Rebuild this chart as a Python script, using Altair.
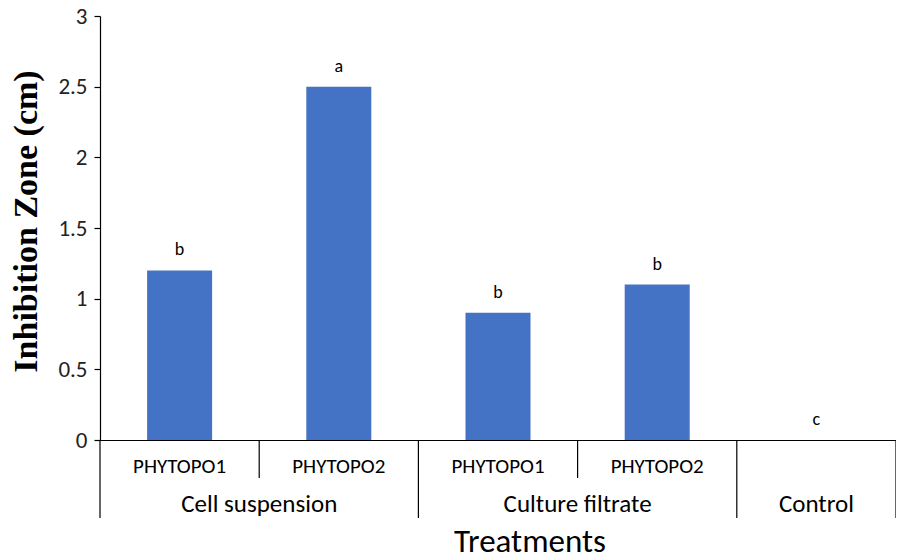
import altair as alt
import pandas as pd

sub_labels = ["PHYTOPO1", "PHYTOPO2", "PHYTOPO1", "PHYTOPO2", ""]
values = [1.2, 2.5, 0.9, 1.1, 0.0]
letters = ["b", "a", "b", "b", "c"]
groups = ["Cell suspension", "Culture filtrate", "Control"]
group_centers = [1.0, 3.0, 4.5]
long_seps = [0, 2, 4, 5]
short_seps = [1, 3]
y_ticks = [0, 0.5, 1, 1.5, 2, 2.5, 3]

FONT = "Carlito, Lato, sans-serif"
W, H = 796, 424
TOP = 8

bars_df = pd.DataFrame({
    "pos": [i + 0.5 for i in range(len(values))],
    "value": values,
    "letter": letters,
    "sub": sub_labels,
})
groups_df = pd.DataFrame({"pos": group_centers, "group": groups})
seps_df = pd.DataFrame({
    "pos": long_seps + short_seps,
    "kind": ["long"] * len(long_seps) + ["short"] * len(short_seps),
})

xscale = alt.Scale(domain=[0, 5], nice=False, zero=False, padding=0)
yscale = alt.Scale(domain=[0, 3], nice=False)

x_enc = alt.X("pos:Q", scale=xscale,
              axis=alt.Axis(labels=False, ticks=False, grid=False, title=None,
                            domainColor="black", domainWidth=1.2))

base = alt.Chart(bars_df)

bars = base.mark_bar(size=65, color="#4472C4").encode(
    x=x_enc,
    y=alt.Y("value:Q", scale=yscale,
            axis=alt.Axis(values=y_ticks, format="~g", grid=False,
                          domainColor="black", domainWidth=1.2,
                          tickColor="black", tickSize=6, tickWidth=1.2,
                          labelFont=FONT, labelFontSize=23, labelColor="#222",
                          labelPadding=7,
                          title="Inhibition Zone (cm)",
                          titleFont="Liberation Serif", titleFontWeight="bold",
                          titleFontSize=34, titleColor="black",
                          titleX=-74, titleY=H / 2 - 7, titleBaseline="middle",
                          titleAngle=-90)),
)

letter_text = base.mark_text(font=FONT, fontSize=18, color="black", dy=-20,
                             baseline="middle").encode(
    x=alt.X("pos:Q", scale=xscale),
    y=alt.Y("value:Q", scale=yscale),
    text="letter:N",
)

sub_text = base.mark_text(font=FONT, fontSize=21, color="black",
                          baseline="alphabetic").encode(
    x=alt.X("pos:Q", scale=xscale),
    y=alt.value(473 - 8 - TOP),
    text="sub:N",
)

group_text = alt.Chart(groups_df).mark_text(font=FONT, fontSize=25, color="black",
                                            baseline="alphabetic").encode(
    x=alt.X("pos:Q", scale=xscale),
    y=alt.value(512 - 8 - TOP),
    text="group:N",
)

long_rules = alt.Chart(seps_df).transform_filter(alt.datum.kind == "long").mark_rule(
    color="black", strokeWidth=1.2).encode(
    x=alt.X("pos:Q", scale=xscale),
    y=alt.value(H),
    y2=alt.value(H + 78),
)
short_rules = alt.Chart(seps_df).transform_filter(alt.datum.kind == "short").mark_rule(
    color="black", strokeWidth=1.2).encode(
    x=alt.X("pos:Q", scale=xscale),
    y=alt.value(H),
    y2=alt.value(H + 38),
)

title_text = alt.Chart(pd.DataFrame({"t": ["Treatments"]})).mark_text(
    font=FONT, fontSize=33, color="black", baseline="alphabetic").encode(
    x=alt.value(430),
    y=alt.value(552 - 8 - TOP),
    text="t:N",
)

chart = alt.layer(bars, letter_text, sub_text, group_text, long_rules, short_rules,
                  title_text).properties(
    width=W, height=H,
    autosize=alt.AutoSizeParams(type="none"),
    padding={"left": 92, "top": TOP, "right": 0, "bottom": 120},
).configure_view(stroke=None)

chart.save("out.html", embed_options={"renderer": "svg", "actions": False})
